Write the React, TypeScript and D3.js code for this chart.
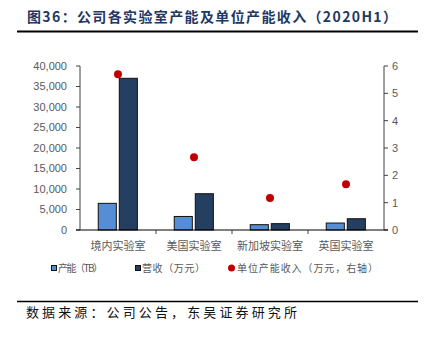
import React from "react";
import * as d3 from "d3";

const categories = ["境内实验室", "美国实验室", "新加坡实验室", "英国实验室"];
const capacityTB = [6500, 3300, 1300, 1700];
const revenueWan = [37000, 8850, 1550, 2750];
const unitRevenue = [5.7, 2.66, 1.17, 1.67];
const leftTicks = [0, 5000, 10000, 15000, 20000, 25000, 30000, 35000, 40000];
const rightTicks = [0, 1, 2, 3, 4, 5, 6];
const seriesNames = ["产能（TB）", "营收（万元）", "单位产能收入（万元，右轴）"];

const W = 430;
const H = 337;
const M = { left: 80, right: 384, top: 66, bottom: 230 };
const CJK = "'Noto Sans CJK SC', 'Noto Sans', sans-serif";
const LAT = "'Liberation Sans', Arial, sans-serif";
const GRAY = "#595959";
const C1 = "#558ed5";
const C2 = "#243f60";
const C3 = "#c00000";

export default function App() {
  const x = d3.scaleBand<string>().domain(categories).range([M.left, M.right]).padding(0);
  const bw = x.bandwidth();
  const inner = d3
    .scaleBand<string>()
    .domain(["cap", "rev"])
    .range([bw * 0.24, bw * 0.755])
    .paddingInner(0.14);
  const yL = d3.scaleLinear().domain([0, 40000]).range([M.bottom, M.top]);
  const yR = d3.scaleLinear().domain([0, 6]).range([M.bottom, M.top]);
  const fmt = d3.format(",");

  return (
    <svg width={W} height={H} style={{ display: "block", position: "absolute", left: 0, top: 0 }}>
      <rect width={W} height={H} fill="#fff" />
      <text x={27} y={21.5} fontFamily={CJK} fontSize={14} fontWeight="bold" fill="#1f3864" textLength={370} lengthAdjust="spacing">
        图36：公司各实验室产能及单位产能收入（2020H1）
      </text>
      <line x1={17} x2={418} y1={31.5} y2={31.5} stroke="#000" strokeWidth={2} />

      {/* bars */}
      {categories.map((c, i) => (
        <g key={c}>
          <rect
            x={(x(c) as number) + (inner("cap") as number)}
            y={yL(capacityTB[i])}
            width={inner.bandwidth()}
            height={yL(0) - yL(capacityTB[i])}
            fill={C1}
            stroke="#111"
            strokeWidth={1}
          />
          <rect
            x={(x(c) as number) + (inner("rev") as number)}
            y={yL(revenueWan[i])}
            width={inner.bandwidth()}
            height={yL(0) - yL(revenueWan[i])}
            fill={C2}
            stroke="#111"
            strokeWidth={1}
          />
        </g>
      ))}
      {categories.map((c, i) => (
        <circle key={"d" + c} cx={(x(c) as number) + bw / 2} cy={yR(unitRevenue[i])} r={4} fill={C3} />
      ))}

      {/* left axis */}
      <line x1={M.left} x2={M.left} y1={yL(40000)} y2={yL(0)} stroke="#404040" strokeWidth={1} />
      {leftTicks.map((t) => (
        <g key={"l" + t}>
          <line x1={M.left - 4} x2={M.left} y1={yL(t)} y2={yL(t)} stroke="#404040" />
          <text x={67} y={yL(t)} dy="0.35em" textAnchor="end" fontFamily={LAT} fontSize={11} fill={GRAY}>
            {fmt(t)}
          </text>
        </g>
      ))}
      {/* right axis */}
      <line x1={M.right} x2={M.right} y1={yR(6)} y2={yR(0)} stroke="#404040" strokeWidth={1} />
      {rightTicks.map((t) => (
        <g key={"r" + t}>
          <line x1={M.right} x2={M.right + 4} y1={yR(t)} y2={yR(t)} stroke="#404040" />
          <text x={392} y={yR(t)} dy="0.35em" textAnchor="start" fontFamily={LAT} fontSize={11} fill={GRAY}>
            {t}
          </text>
        </g>
      ))}
      {/* bottom axis */}
      <line x1={M.left - 4} x2={M.right + 4} y1={M.bottom} y2={M.bottom} stroke="#000" strokeWidth={1.2} />
      {categories.slice(1).map((c) => (
        <line key={"t" + c} x1={x(c) as number} x2={x(c) as number} y1={M.bottom} y2={M.bottom + 4} stroke="#404040" />
      ))}
      {categories.map((c) => (
        <text key={"c" + c} x={(x(c) as number) + bw / 2} y={250} textAnchor="middle" fontFamily={CJK} fontSize={11} fill={GRAY}>
          {c}
        </text>
      ))}

      {/* legend */}
      <rect x={51.5} y={265.5} width={5} height={5} fill={C1} stroke="#111" strokeWidth={1} />
      <text x={58} y={272} fontFamily={CJK} fontSize={10} fill={GRAY} textLength={45} lengthAdjust="spacing">
        {seriesNames[0]}
      </text>
      <rect x={135.5} y={265.5} width={5} height={5} fill={C2} stroke="#111" strokeWidth={1} />
      <text x={142} y={272} fontFamily={CJK} fontSize={10} fill={GRAY} textLength={63} lengthAdjust="spacing">
        {seriesNames[1]}
      </text>
      <circle cx={231.5} cy={268} r={3.5} fill={C3} />
      <text x={237} y={272} fontFamily={CJK} fontSize={10} fill={GRAY} textLength={141} lengthAdjust="spacing">
        {seriesNames[2]}
      </text>

      <line x1={17} x2={418} y1={301.5} y2={301.5} stroke="#000" strokeWidth={1.5} />
      <text x={26} y={317} fontFamily={CJK} fontSize={13} fill="#111" textLength={271} lengthAdjust="spacing">
        数据来源：公司公告，东吴证券研究所
      </text>
    </svg>
  );
}
